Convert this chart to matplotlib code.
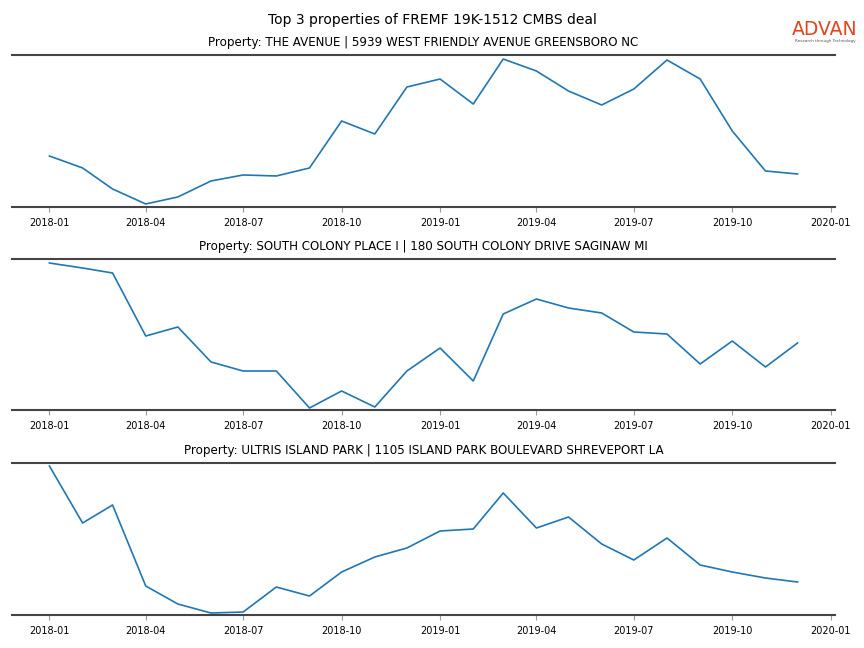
import pandas as pd
from matplotlib import pyplot as plt

# Monthly values (relative units)
months = pd.date_range("2018-01-01", "2019-12-01", freq="MS")

titles = [
    "Property: THE AVENUE | 5939 WEST FRIENDLY AVENUE GREENSBORO NC",
    "Property: SOUTH COLONY PLACE I | 180 SOUTH COLONY DRIVE SAGINAW MI",
    "Property: ULTRIS ISLAND PARK | 1105 ISLAND PARK BOULEVARD SHREVEPORT LA",
]

avenue = [51, 39, 18, 3, 10, 26, 32, 31, 39, 86, 73, 120,
          128, 103, 148, 136, 116, 102, 118, 147, 128, 76, 36, 33]
south_colony = [147, 142, 137, 74, 83, 48, 39, 39, 2, 19, 3, 39,
                62, 29, 96, 111, 102, 97, 78, 76, 46, 69, 43, 67]
ultris = [149, 92, 110, 29, 11, 2, 3, 28, 19, 43, 58, 67,
          84, 86, 122, 87, 98, 71, 55, 77, 50, 43, 37, 33]

series = [avenue, south_colony, ultris]
ylims = [(0, 152), (0, 151), (0, 152)]

fig = plt.figure(figsize=(8.64, 6.48), dpi=100)
fig.suptitle("Top 3 properties of FREMF 19K-1512 CMBS deal", fontsize=10, y=0.98)

# axes positions [left, bottom, width, height]
boxes = [
    [0.0139, 0.6806, 0.9525, 0.2345],
    [0.0139, 0.3673, 0.9525, 0.2330],
    [0.0139, 0.0509, 0.9525, 0.2346],
]

tick_dates = pd.date_range("2018-01-01", "2020-01-01", freq="3MS")

for box, vals, title, yl in zip(boxes, series, titles, ylims):
    ax = fig.add_axes(box)
    ax.plot(months, vals, c='#1f77b4', linewidth=1.2)
    ax.set_ylim(*yl)
    ax.set_title(title, fontsize=8.6, pad=6.5)
    ax.set_xticks(tick_dates)
    ax.set_xticklabels([d.strftime("%Y-%m") for d in tick_dates])
    ax.set_yticks([])
    for side in ['left', 'right']:
        ax.spines[side].set_visible(False)
    for side in ['top', 'bottom']:
        ax.spines[side].set_color('#444444')
        ax.spines[side].set_linewidth(1.5)
    ax.tick_params(axis='x', labelsize=7, color='#999999', length=3.5, pad=4.5)

# logo
fig.text(0.955, 0.955, "ADVAN", color='#e0461e', fontsize=13.5,
         ha='center', va='center', fontweight='medium')
fig.text(0.955, 0.937, "Research through Technology", color='#555555',
         fontsize=3, ha='center', va='center')

plt.savefig("out.png", dpi=100)
